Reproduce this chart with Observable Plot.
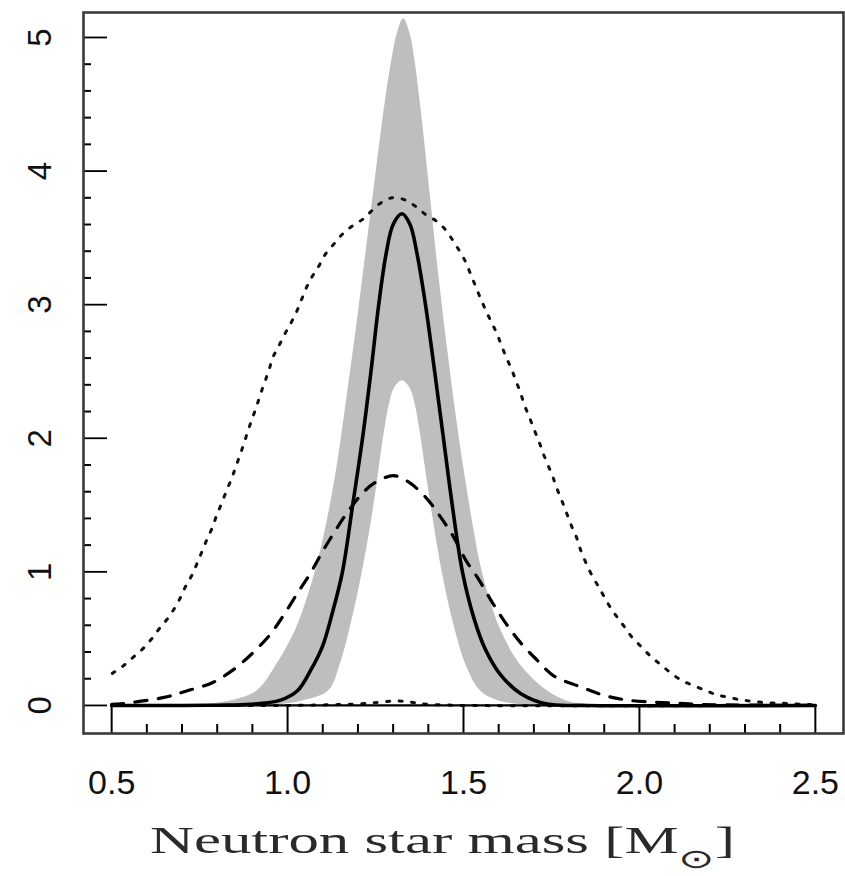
<!DOCTYPE html>
<html>
<head>
<meta charset="utf-8">
<script src="https://cdn.jsdelivr.net/npm/d3@7"></script>
<script src="https://cdn.jsdelivr.net/npm/@observablehq/plot@0.6"></script>
<style>
  html, body { margin: 0; padding: 0; background: #fff; }
  svg { display: block; }
</style>
</head>
<body>
<div id="chart"></div>
<script>
// ---- Data ----
const xTicks = [0.5, 1.0, 1.5, 2.0, 2.5];
const xTickLabels = ["0.5", "1.0", "1.5", "2.0", "2.5"];
const xMinorTicks = [0.6, 0.7, 0.8, 0.9, 1.1, 1.2, 1.3, 1.4, 1.6, 1.7, 1.8, 1.9, 2.1, 2.2, 2.3, 2.4];
const yTicks = [0, 1, 2, 3, 4, 5];
const yTickLabels = ["0", "1", "2", "3", "4", "5"];
const yMinorTicks = [0.2, 0.4, 0.6, 0.8, 1.2, 1.4, 1.6, 1.8, 2.2, 2.4, 2.6, 2.8, 3.2, 3.4, 3.6, 3.8, 4.2, 4.4, 4.6, 4.8];
const xLabel = "Neutron star mass [M⊙]";

// grey band: upper and lower bounds [mass, density]
const bandUpper = [
  [0.75, 0.0], [0.85, 0.04], [0.914, 0.11], [0.97, 0.31], [1.022, 0.56], [1.057, 0.81],
  [1.085, 1.06], [1.107, 1.31], [1.126, 1.56], [1.142, 1.81], [1.156, 2.06], [1.169, 2.31],
  [1.182, 2.56], [1.195, 2.81], [1.207, 3.06], [1.219, 3.31], [1.231, 3.56], [1.243, 3.81],
  [1.255, 4.06], [1.267, 4.31], [1.28, 4.56], [1.295, 4.81], [1.312, 5.03], [1.33, 5.14],
  [1.348, 5.03], [1.363, 4.81], [1.375, 4.56], [1.386, 4.31], [1.396, 4.06], [1.406, 3.81],
  [1.416, 3.56], [1.426, 3.31], [1.437, 3.06], [1.448, 2.81], [1.46, 2.56], [1.472, 2.31],
  [1.485, 2.06], [1.499, 1.81], [1.514, 1.56], [1.53, 1.31], [1.548, 1.06], [1.573, 0.81],
  [1.607, 0.56], [1.66, 0.31], [1.738, 0.11], [1.81, 0.02], [1.9, 0.0]
];
const bandLower = [
  [0.95, 0.0], [1.037, 0.03], [1.117, 0.11], [1.15, 0.31], [1.176, 0.56], [1.198, 0.81],
  [1.217, 1.06], [1.234, 1.31], [1.249, 1.56], [1.262, 1.81], [1.276, 2.06], [1.29, 2.26],
  [1.305, 2.38], [1.326, 2.43], [1.347, 2.38], [1.362, 2.26], [1.376, 2.06], [1.39, 1.81],
  [1.404, 1.56], [1.419, 1.31], [1.435, 1.06], [1.454, 0.81], [1.477, 0.56], [1.506, 0.31],
  [1.548, 0.11], [1.605, 0.03], [1.7, 0.0]
];
// solid curve
const solidCurve = [
  [0.5, 0.0], [0.7, 0.0], [0.8, 0.002], [0.895, 0.008], [0.98, 0.04], [1.028, 0.11],
  [1.065, 0.26], [1.099, 0.44], [1.127, 0.69], [1.156, 1.0], [1.185, 1.5], [1.213, 2.0],
  [1.237, 2.5], [1.259, 3.0], [1.28, 3.38], [1.3, 3.6], [1.325, 3.68], [1.348, 3.6],
  [1.368, 3.38], [1.392, 3.0], [1.418, 2.5], [1.443, 2.0], [1.468, 1.5], [1.497, 1.0],
  [1.53, 0.65], [1.562, 0.42], [1.605, 0.23], [1.662, 0.09], [1.738, 0.01], [1.85, 0.0],
  [2.5, 0.0]
];
// dashed curve
const dashedCurve = [
  [0.5, 0.008], [0.526, 0.012], [0.649, 0.06], [0.715, 0.11], [0.786, 0.17], [0.847, 0.27],
  [0.9, 0.39], [0.95, 0.53], [0.985, 0.66], [1.028, 0.84], [1.065, 0.99], [1.099, 1.15],
  [1.136, 1.31], [1.174, 1.46], [1.217, 1.6], [1.25, 1.67], [1.3, 1.72], [1.34, 1.68],
  [1.392, 1.56], [1.435, 1.41], [1.472, 1.26], [1.506, 1.09], [1.544, 0.94], [1.582, 0.77],
  [1.619, 0.62], [1.662, 0.47], [1.709, 0.34], [1.757, 0.22], [1.832, 0.14], [1.9, 0.075],
  [1.965, 0.04], [2.04, 0.025], [2.107, 0.017], [2.17, 0.008], [2.3, 0.003], [2.5, 0.0]
];
// broad dotted curve
const dottedCurve = [
  [0.502, 0.24], [0.53, 0.29], [0.561, 0.36], [0.587, 0.42], [0.611, 0.49], [0.634, 0.57],
  [0.656, 0.64], [0.677, 0.72], [0.696, 0.81], [0.71, 0.89], [0.729, 0.98], [0.743, 1.065],
  [0.758, 1.16], [0.772, 1.25], [0.786, 1.33], [0.798, 1.42], [0.812, 1.51], [0.827, 1.61],
  [0.841, 1.7], [0.852, 1.78], [0.864, 1.87], [0.876, 1.96], [0.888, 2.06], [0.9, 2.15],
  [0.912, 2.24], [0.923, 2.33], [0.935, 2.42], [0.947, 2.51], [0.959, 2.61], [0.975, 2.69],
  [0.992, 2.78], [1.009, 2.86], [1.026, 2.95], [1.04, 3.04], [1.054, 3.13], [1.07, 3.21],
  [1.089, 3.29], [1.108, 3.38], [1.132, 3.455], [1.155, 3.525], [1.182, 3.585], [1.214, 3.64],
  [1.238, 3.7], [1.264, 3.76], [1.297, 3.8], [1.333, 3.785], [1.364, 3.735], [1.392, 3.675],
  [1.423, 3.625], [1.449, 3.56], [1.47, 3.48], [1.489, 3.4], [1.506, 3.32], [1.52, 3.23],
  [1.534, 3.14], [1.548, 3.05], [1.563, 2.96], [1.579, 2.87], [1.594, 2.79], [1.607, 2.7],
  [1.621, 2.61], [1.636, 2.52], [1.649, 2.43], [1.662, 2.34], [1.673, 2.25], [1.687, 2.16],
  [1.7, 2.07], [1.714, 1.98], [1.726, 1.89], [1.74, 1.8], [1.754, 1.71], [1.766, 1.62],
  [1.78, 1.53], [1.793, 1.44], [1.806, 1.35], [1.821, 1.26], [1.832, 1.17], [1.86, 1.0],
  [1.89, 0.86], [1.916, 0.74], [1.937, 0.66], [1.957, 0.59], [1.979, 0.51], [2.005, 0.44],
  [2.031, 0.37], [2.058, 0.31], [2.086, 0.25], [2.118, 0.19], [2.153, 0.15], [2.19, 0.11],
  [2.219, 0.08], [2.254, 0.06], [2.292, 0.04], [2.327, 0.03], [2.363, 0.02], [2.4, 0.017],
  [2.438, 0.012], [2.476, 0.007], [2.5, 0.005]
];
// small dotted curve near zero
const dottedLow = [
  [0.5, 0.0], [1.0, 0.0], [1.1, 0.004], [1.207, 0.012], [1.264, 0.025], [1.31, 0.034],
  [1.35, 0.025], [1.378, 0.012], [1.45, 0.004], [1.5, 0.0], [2.5, 0.0]
];

// ---- Layout ----
const W = 845, H = 876;
const mL = 83, mR = 2, mT = 12, mB = 143;
const frameW = W - mL - mR, frameH = H - mT - mB;
const xDomain = [0.42, 2.58];
const yDomain = [-0.21, 5.187];
const sans = "Liberation Sans, Arial, Helvetica, sans-serif";
const serif = "Liberation Serif, Times New Roman, serif";
const grey = "#bebebe";

const chart = Plot.plot({
  width: W, height: H,
  marginLeft: mL, marginRight: mR, marginTop: mT, marginBottom: mB,
  x: {domain: xDomain, axis: null},
  y: {domain: yDomain, axis: null},
  marks: [
    Plot.areaY(bandUpper, {x: d => d[0], y: d => d[1], fill: grey, curve: "catmull-rom"}),
    Plot.areaY(bandLower, {x: d => d[0], y: d => d[1], fill: "white", curve: "catmull-rom"}),
    Plot.line(dottedLow, {x: d => d[0], y: d => d[1], stroke: "#111", strokeWidth: 3,
      strokeDasharray: "3 9.5", curve: "catmull-rom"}),
    Plot.line(solidCurve, {x: d => d[0], y: d => d[1], stroke: "#000", strokeWidth: 3.6,
      curve: "catmull-rom"}),
    Plot.line(dashedCurve, {x: d => d[0], y: d => d[1], stroke: "#000", strokeWidth: 3.2,
      strokeDasharray: "12 11.5", curve: "catmull-rom"}),
    Plot.line(dottedCurve, {x: d => d[0], y: d => d[1], stroke: "#111", strokeWidth: 3,
      strokeDasharray: "3 9.5", curve: "catmull-rom"}),
    // bottom axis box
    Plot.ruleY([0], {x1: xTicks[0], x2: xTicks[xTicks.length - 1], stroke: "#000", strokeWidth: 2.2}),
    Plot.ruleX(xTicks, {x: d => d, y1: yDomain[0], y2: 0, stroke: "#000", strokeWidth: 2}),
    Plot.tickX(xMinorTicks, {x: d => d, insetTop: frameH - 9, stroke: "#000", strokeWidth: 2}),
    // left axis ticks (inward)
    Plot.tickY(yTicks, {y: d => d, insetRight: frameW - 24, stroke: "#000", strokeWidth: 1.8}),
    Plot.tickY(yMinorTicks, {y: d => d, insetRight: frameW - 8, stroke: "#000", strokeWidth: 2}),
    Plot.frame({stroke: "#3a3a3a", strokeWidth: 2.6}),
    // tick labels
    Plot.text(xTicks, {x: d => d, text: (d, i) => xTickLabels[i], frameAnchor: "bottom",
      dy: 60, lineAnchor: "bottom", textAnchor: "middle", fontSize: 34, fontFamily: sans, fill: "#111"}),
    Plot.text(yTicks, {y: d => d, text: (d, i) => yTickLabels[i], frameAnchor: "left",
      dx: -43, rotate: -90, textAnchor: "middle", fontSize: 33, fontFamily: sans, fill: "#111"}),
    // x axis title
    Plot.text([xLabel], {text: d => d, frameAnchor: "bottom", dx: -21, dy: 119,
      lineAnchor: "bottom", textAnchor: "middle", fontSize: 38, fontFamily: serif, fill: "#2a2a2a"})
  ]
});

document.getElementById("chart").appendChild(chart);

// subscript solar symbol and horizontally stretched title
const ns = "http://www.w3.org/2000/svg";
const t = Array.from(chart.querySelectorAll("text")).find(e => e.textContent === xLabel);
if (t) {
  const full = t.textContent;
  const k = full.indexOf("⊙");
  t.textContent = full.slice(0, k);
  const s1 = document.createElementNS(ns, "tspan");
  s1.setAttribute("dy", "15");
  s1.setAttribute("font-size", "27");
  s1.setAttribute("font-family", "DejaVu Sans, sans-serif");
  s1.textContent = full.slice(k, k + 1);
  const s2 = document.createElementNS(ns, "tspan");
  s2.setAttribute("dy", "-15");
  s2.textContent = full.slice(k + 1);
  t.appendChild(s1);
  t.appendChild(s2);
  const bb = t.getBBox();
  const s = 585 / bb.width;
  const cx = bb.x + bb.width / 2;
  const prev = t.getAttribute("transform") || "";
  t.setAttribute("transform", `${prev} translate(${cx},0) scale(${s},1) translate(${-cx},0)`.trim());
}
</script>
</body>
</html>
